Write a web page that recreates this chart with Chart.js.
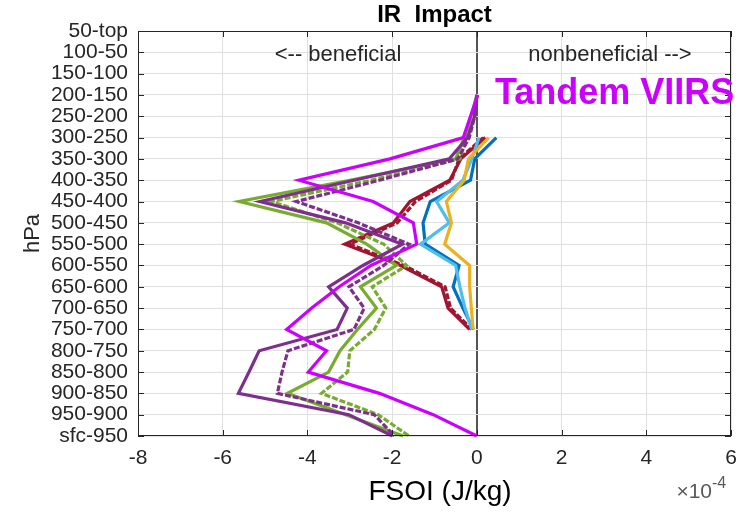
<!DOCTYPE html>
<html>
<head>
<meta charset="utf-8">
<script src="https://cdn.jsdelivr.net/npm/chart.js@4.4.1/dist/chart.umd.min.js"></script>
<style>
  html, body { margin: 0; padding: 0; background: #fff; }
  #wrap { width: 751px; height: 513px; }
</style>
</head>
<body>
<div id="wrap"><canvas id="fsoiChart" width="751" height="513"></canvas></div>
<script>
// pressure layers, top of the atmosphere first
const layers = ['50-top', '100-50', '150-100', '200-150', '250-200', '300-250', '350-300',
  '400-350', '450-400', '500-450', '550-500', '600-550', '650-600', '700-650', '750-700',
  '800-750', '850-800', '900-850', '950-900', 'sfc-950'];

const xTicks = [-8, -6, -4, -2, 0, 2, 4, 6];

// FSOI per layer, in units of 1e-4 J/kg
const tandem     = [null, null, null, 0.02, -0.15, -0.32, -2.05, -4.2, -2.45, -1.5, -1.42, -2.5, -3.25, -3.9, -4.49, -3.55, -3.98, -2.3, -1.03, 0.0];
const purple     = [null, null, null, 0.0, -0.05, -0.22, -0.65, -2.9, -5.12, -3.1, -1.76, -2.69, -3.5, -3.06, -3.3, -5.14, -5.38, -5.63, -3.02, -1.99];
const purpleDash = [null, null, null, 0.0, -0.05, -0.18, -0.45, -2.3, -4.26, -2.8, -1.6, -2.2, -3.02, -2.66, -2.9, -4.46, -4.6, -4.71, -2.42, -1.95];
const green      = [null, null, null, 0.0, -0.13, -0.3, -0.5, -3.0, -5.61, -3.55, -2.6, -1.9, -2.75, -2.37, -2.82, -3.23, -3.5, -4.47, -3.1, -1.74];
const greenDash  = [null, null, null, 0.0, -0.1, -0.25, -0.4, -2.5, -4.85, -3.3, -2.2, -1.66, -2.47, -2.15, -2.42, -3.0, -3.05, -3.67, -2.33, -1.6];
const red        = [null, null, null, null, null, 0.2, -0.38, -0.64, -1.58, -1.97, -3.12, -1.8, -0.83, -0.68, -0.17];
const redDash    = [null, null, null, null, null, 0.15, -0.42, -0.6, -1.45, -1.88, -3.0, -1.72, -0.75, -0.62, -0.12];
const blue       = [null, null, null, null, null, 0.46, -0.05, -0.15, -1.1, -1.27, -1.22, -0.42, -0.56, -0.33, -0.08];
const lightBlue  = [null, null, null, null, null, 0.05, -0.12, -0.33, -0.95, -0.65, -1.33, -0.5, -0.4, -0.28, -0.12];
const orange     = [null, null, null, null, null, 0.28, -0.2, -0.3, -0.72, -0.6, -0.76, -0.17, -0.17, -0.13, -0.09];

const FONT = '"Liberation Sans", Arial, Helvetica, sans-serif';
const INK = '#262626';

function line(data, color, dashed) {
  return {
    data: data,
    borderColor: color,
    borderWidth: 3.2,
    borderDash: dashed ? [6, 2] : [],
    borderJoinStyle: 'miter',
    pointRadius: 0,
    tension: 0,
    fill: false
  };
}

// box, inner ticks and the text around the axes
const frame = {
  id: 'frame',
  afterDraw(chart) {
    const { ctx, chartArea: a, scales: { x, y } } = chart;
    ctx.save();
    ctx.strokeStyle = INK;
    ctx.lineWidth = 1;
    ctx.strokeRect(a.left + 0.5, a.top + 0.5, a.right - a.left - 1, a.bottom - a.top - 1);
    ctx.beginPath();
    xTicks.forEach(v => {
      const px = Math.round(x.getPixelForValue(v)) + 0.5;
      ctx.moveTo(px, a.bottom); ctx.lineTo(px, a.bottom - 6);
      ctx.moveTo(px, a.top); ctx.lineTo(px, a.top + 6);
    });
    layers.forEach((l, i) => {
      const py = Math.round(y.getPixelForValue(i)) + 0.5;
      ctx.moveTo(a.left, py); ctx.lineTo(a.left + 6, py);
      ctx.moveTo(a.right, py); ctx.lineTo(a.right - 6, py);
    });
    ctx.stroke();

    ctx.fillStyle = '#000';
    ctx.textAlign = 'center';
    ctx.textBaseline = 'middle';
    ctx.font = 'bold 24px ' + FONT;
    ctx.fillText('IR  Impact', (a.left + a.right) / 2, 15);

    ctx.fillStyle = INK;
    ctx.font = '22px ' + FONT;
    ctx.fillText('<-- beneficial', 338, 55);
    ctx.fillText('nonbeneficial -->', 610, 55);

    ctx.fillStyle = '#cc00ff';
    ctx.textAlign = 'left';
    ctx.font = 'bold 36px ' + FONT;
    ctx.fillText('Tandem VIIRS', 495, 94);

    ctx.fillStyle = '#000';
    ctx.textAlign = 'center';
    ctx.font = '28px ' + FONT;
    ctx.fillText('FSOI (J/kg)', 440, 492);

    ctx.fillStyle = '#5a5a5a';
    ctx.textAlign = 'right';
    ctx.textBaseline = 'alphabetic';
    ctx.font = '21px ' + FONT;
    ctx.fillText('\u00d710', 712, 498);
    ctx.textAlign = 'left';
    ctx.font = '16px ' + FONT;
    ctx.fillText('-4', 712, 488);

    ctx.save();
    ctx.translate(33, (a.top + a.bottom) / 2);
    ctx.rotate(-Math.PI / 2);
    ctx.textAlign = 'center';
    ctx.textBaseline = 'middle';
    ctx.fillStyle = INK;
    ctx.font = '22px ' + FONT;
    ctx.fillText('hPa', 0, 0);
    ctx.restore();
    ctx.restore();
  }
};

new Chart(document.getElementById('fsoiChart'), {
  type: 'line',
  data: {
    labels: layers,
    datasets: [
      line(tandem, '#cc00ff', false),
      line(purple, '#7E2F8E', false),
      line(purpleDash, '#7E2F8E', true),
      line(green, '#77AC30', false),
      line(greenDash, '#77AC30', true),
      line(orange, '#EDB120', false),
      line(lightBlue, '#4DBEEE', false),
      line(blue, '#0072BD', false),
      line(redDash, '#A2142F', true),
      line(red, '#A2142F', false)
    ]
  },
  options: {
    indexAxis: 'y',
    responsive: false,
    devicePixelRatio: 1,
    animation: false,
    layout: { padding: { top: 31, right: 20, bottom: 0, left: 0 } },
    plugins: {
      legend: { display: false },
      tooltip: { enabled: false }
    },
    scales: {
      x: {
        type: 'linear',
        min: -8,
        max: 6,
        afterBuildTicks: scale => { scale.ticks = xTicks.map(v => ({ value: v })); },
        afterFit: scale => { scale.height = 77; },
        border: { display: false },
        grid: {
          drawTicks: false,
          color: c => c.tick && c.tick.value === 0 ? '#555555' : '#e0e0e0',
          lineWidth: c => c.tick && c.tick.value === 0 ? 2 : 1
        },
        ticks: { padding: 10, color: INK, font: { family: FONT, size: 21 } }
      },
      y: {
        type: 'category',
        afterFit: scale => { scale.width = 138; },
        border: { display: false },
        grid: { drawTicks: false, color: '#e0e0e0' },
        ticks: { autoSkip: false, padding: 10, color: INK, font: { family: FONT, size: 21 } }
      }
    }
  },
  plugins: [frame]
});
</script>
</body>
</html>
